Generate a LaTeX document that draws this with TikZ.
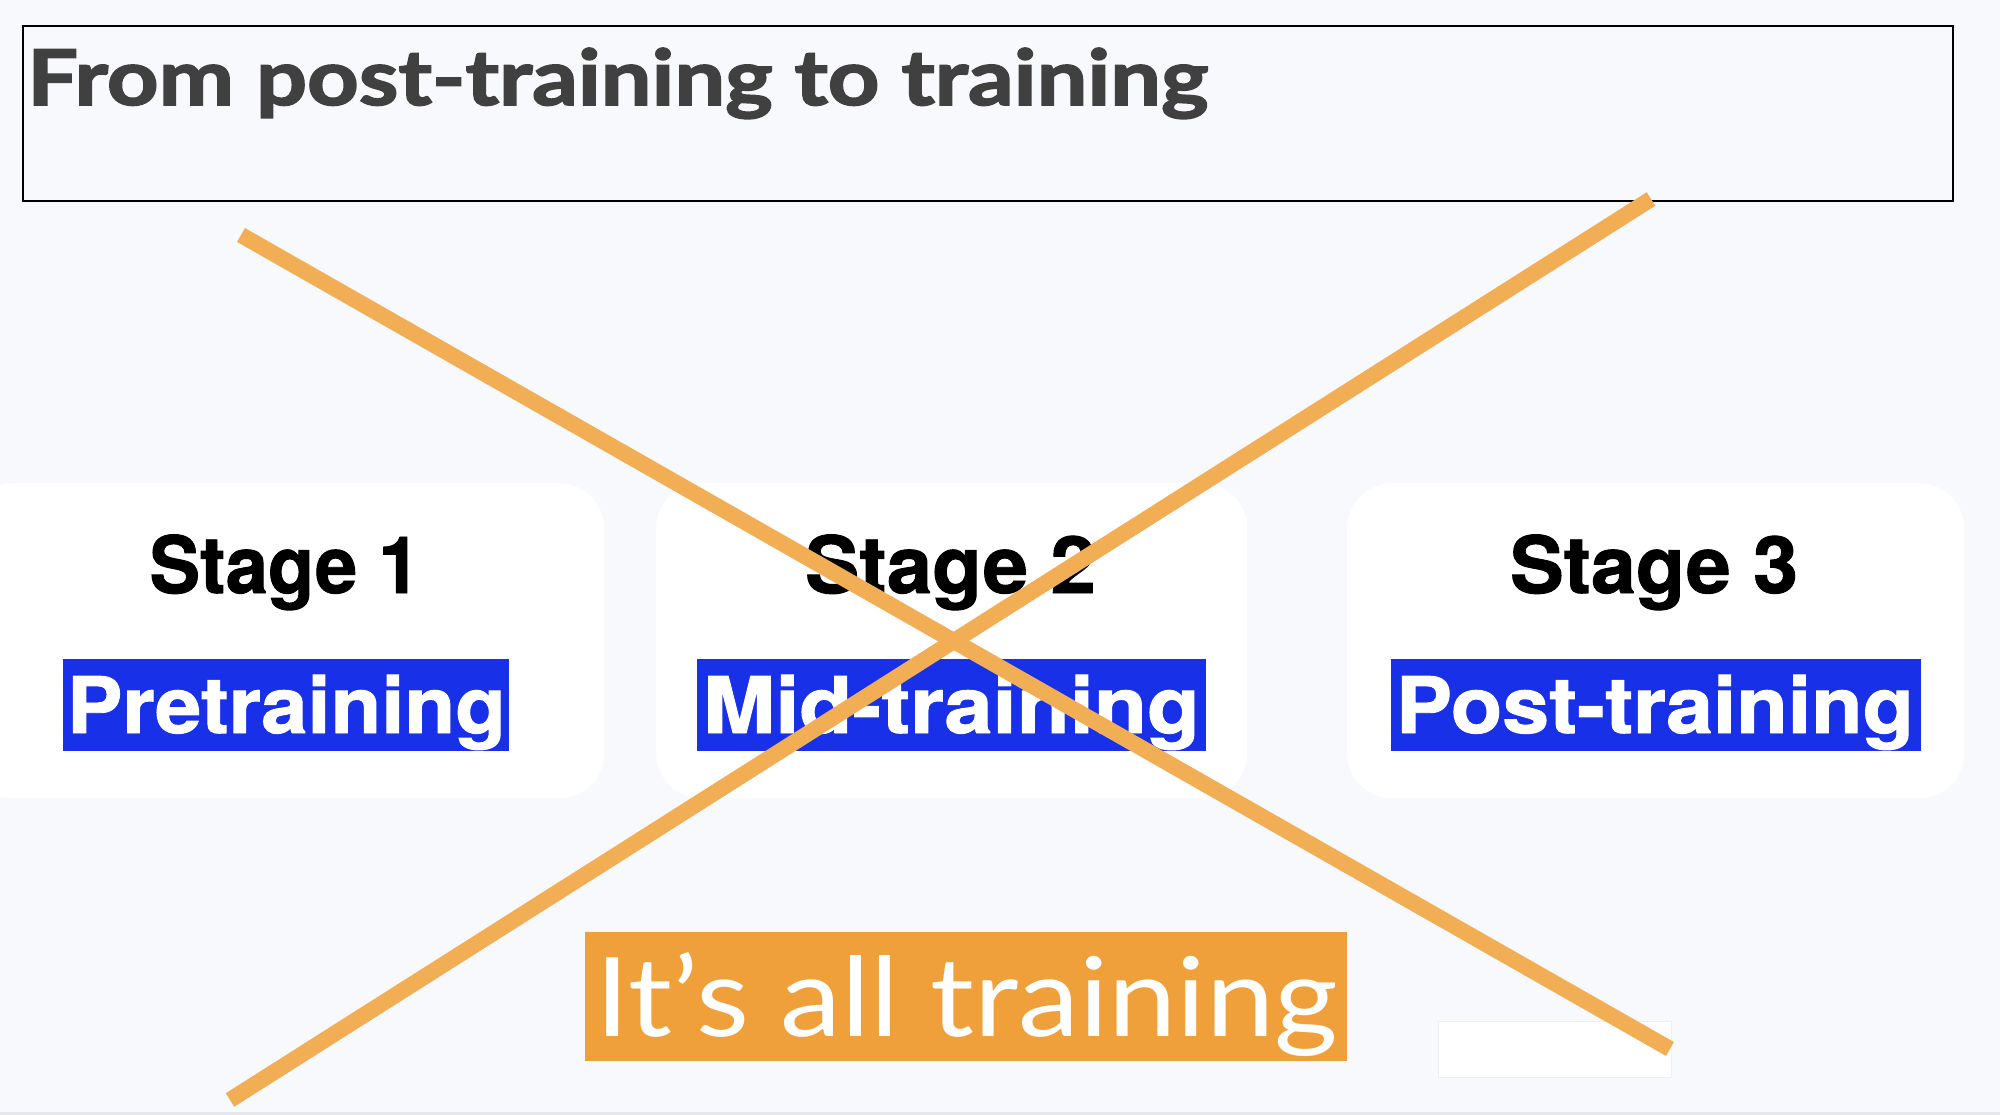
\documentclass[tikz,border=0pt]{standalone}
\usepackage{fontspec}
\usepackage{graphicx}
\newfontfamily\titlefont{Lato}[BoldFeatures={FakeBold=2}]
\newfontfamily\stagefont{TeX Gyre Heros}[BoldFeatures={FakeBold=1.2}]
\newfontfamily\allfont{Lato}
\newcommand\fitw[2]{\resizebox{#1}{\height}{#2}}
\definecolor{bg}{HTML}{F8F9FD}
\definecolor{titlegray}{HTML}{404040}
\definecolor{stageblue}{HTML}{1730E8}
\definecolor{allorange}{HTML}{F0A03A}
\definecolor{crossorange}{HTML}{F2AE55}
\definecolor{bottomgray}{HTML}{E6E7EC}
\definecolor{ghostline}{HTML}{EEEFF4}
\begin{document}
\begin{tikzpicture}[x=1pt,y=-1pt,
  titlebox/.style={draw=black,line width=1.8pt,fill=bg,inner sep=0pt,anchor=north west},
  titlelbl/.style={anchor=base west,inner sep=0pt,text=titlegray,font=\titlefont\bfseries\fontsize{77}{90}\selectfont},
  stagebox/.style={fill=white,rounded corners=45pt,inner sep=0pt,anchor=north west,minimum height=315pt},
  stagelbl/.style={anchor=base,inner sep=0pt,text=black,font=\stagefont\bfseries\fontsize{79}{90}\selectfont},
  bluebox/.style={fill=stageblue,inner sep=0pt,minimum height=92pt},
  bluelbl/.style={anchor=base,inner sep=0pt,text=white,font=\stagefont\bfseries\fontsize{78}{90}\selectfont},
  allbox/.style={fill=allorange,inner sep=0pt,anchor=north west},
  alllbl/.style={anchor=base,inner sep=0pt,text=white,font=\allfont\fontsize{110}{120}\selectfont},
  ghost/.style={fill=white,draw=ghostline,line width=1pt,inner sep=0pt,anchor=north west},
  cross/.style={draw=crossorange,line width=16pt,line cap=butt}]
\fill[bg] (0,0) rectangle (2000,1115);
\useasboundingbox (0,0) rectangle (2000,1115);
\fill[bottomgray] (0,1112) rectangle (2000,1115);
% title
\node[titlebox,minimum width=1930pt,minimum height=175pt] (title) at (22,25) {};
\node[titlelbl] (titletext) at (27,105) {\fitw{1181pt}{From post-training to training}};
% stage boxes
\node[stagebox,minimum width=638pt] (s1) at (-34,483) {};
\node[stagebox,minimum width=591pt] (s2) at (656,483) {};
\node[stagebox,minimum width=617pt] (s3) at (1347,483) {};
\node[stagelbl] (l1) at (285,593) {\fitw{271pt}{Stage 1}};
\node[stagelbl] (l2) at (950.5,593) {\fitw{291pt}{Stage 2}};
\node[stagelbl] (l3) at (1654,593) {\fitw{288pt}{Stage 3}};
\node[bluebox,minimum width=446pt] (p1) at (286,705) {};
\node[bluebox,minimum width=509pt] (p2) at (951.5,705) {};
\node[bluebox,minimum width=530pt] (p3) at (1656,705) {};
\node[bluelbl] (t1) at (286.5,733) {\fitw{439pt}{Pretraining}};
\node[bluelbl] (t2) at (951.5,733) {\fitw{497pt}{Mid-training}};
\node[bluelbl] (t3) at (1655,733) {\fitw{518pt}{Post-training}};
% bottom
\node[allbox,minimum width=762pt,minimum height=129pt] (all) at (585,932) {};
\node[alllbl] (allt) at (967,1036) {\fitw{742pt}{It’s all training}};
\node[ghost,minimum width=233pt,minimum height=56pt] (gh) at (1438,1021) {};
% cross
\coordinate (a1) at (241,235);
\coordinate (a2) at (1670,1049);
\coordinate (b1) at (230,1100);
\coordinate (b2) at (1651,199);
\draw[cross] (a1) -- (a2);
\draw[cross] (b1) -- (b2);
\end{tikzpicture}
\end{document}
